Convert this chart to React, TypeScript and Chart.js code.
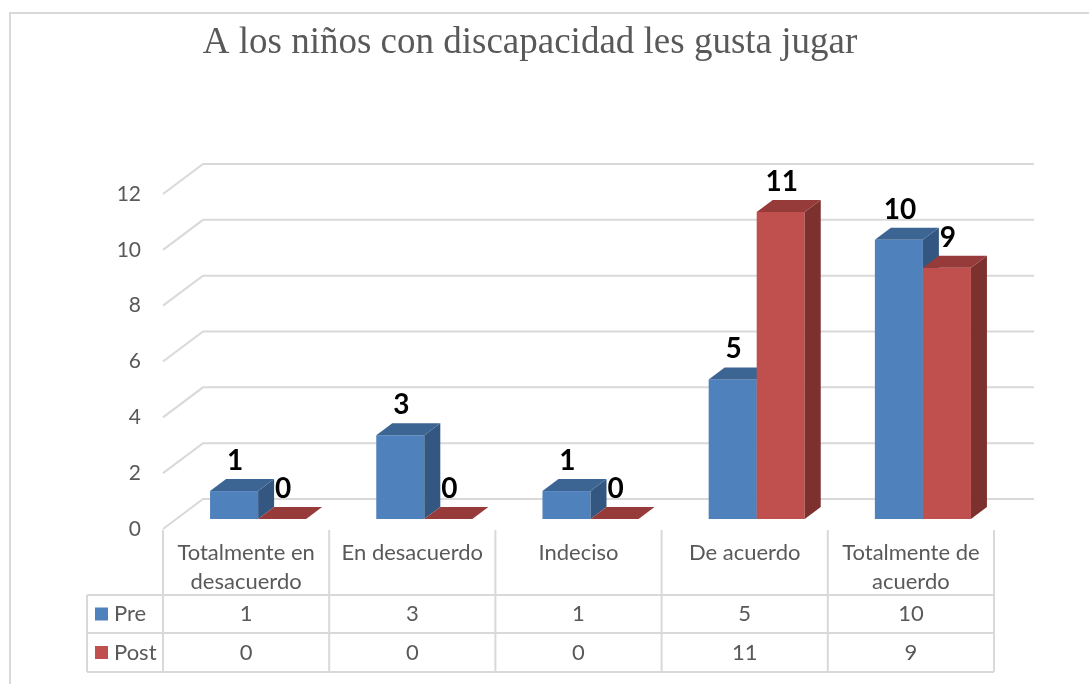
import React, { useEffect, useRef } from "react";
import { Chart, registerables } from "chart.js";

Chart.register(...registerables);

const chartTitle = "A los niños con discapacidad les gusta jugar";
const categories: string[][] = [
  ["Totalmente en", "desacuerdo"],
  ["En desacuerdo"],
  ["Indeciso"],
  ["De acuerdo"],
  ["Totalmente de", "acuerdo"],
];
const seriesNames = ["Pre", "Post"];
const preValues = [1, 3, 1, 5, 10];
const postValues = [0, 0, 0, 11, 9];
const yTicks = [0, 2, 4, 6, 8, 10, 12];

const W = 1089;
const H = 684;
const FONT = 'Lato, "Open Sans", sans-serif';
const GRAY_TEXT = "#595959";
const GRID = "#D9D9D9";
const PALETTE = [
  { front: "#4F81BD", top: "#3D6593", side: "#335781" },
  { front: "#C0504D", top: "#963B39", side: "#7D312F" },
];
const BACK = { dx: 28, dy: -20 };
const FRONT = { dx: -12, dy: 10 };
const DEPTH = { dx: 16, dy: -12 };

function drawBox(ctx: CanvasRenderingContext2D, l: number, r: number, top: number, base: number, c: any) {
  if (base - top > 0.5) {
    ctx.fillStyle = c.front;
    ctx.fillRect(l, top, r - l, base - top);
    ctx.fillStyle = c.side;
    ctx.beginPath();
    ctx.moveTo(r, top);
    ctx.lineTo(r + DEPTH.dx, top + DEPTH.dy);
    ctx.lineTo(r + DEPTH.dx, base + DEPTH.dy);
    ctx.lineTo(r, base);
    ctx.closePath();
    ctx.fill();
  }
  ctx.fillStyle = c.top;
  ctx.beginPath();
  ctx.moveTo(l, top);
  ctx.lineTo(l + DEPTH.dx, top + DEPTH.dy);
  ctx.lineTo(r + DEPTH.dx, top + DEPTH.dy);
  ctx.lineTo(r, top);
  ctx.closePath();
  ctx.fill();
}

const threeDPlugin = {
  id: "threeD",
  beforeDraw(chart: any) {
    const ctx: CanvasRenderingContext2D = chart.ctx;
    ctx.save();
    ctx.fillStyle = "#FFFFFF";
    ctx.fillRect(0, 0, W, H);
    ctx.strokeStyle = GRID;
    ctx.lineWidth = 2;
    ctx.beginPath();
    ctx.moveTo(10, H);
    ctx.lineTo(10, 13);
    ctx.lineTo(W, 13);
    ctx.stroke();
    ctx.fillStyle = GRAY_TEXT;
    ctx.font = '37px "Liberation Serif", "Times New Roman", serif';
    ctx.textAlign = "center";
    ctx.textBaseline = "alphabetic";
    ctx.fillText(chartTitle, 530, 53);
    ctx.restore();
  },
  beforeDatasetsDraw(chart: any) {
    const ctx: CanvasRenderingContext2D = chart.ctx;
    const y = chart.scales.y;
    const area = chart.chartArea;
    ctx.save();
    ctx.strokeStyle = GRID;
    ctx.lineWidth = 2;
    for (const v of yTicks) {
      const py = y.getPixelForValue(v);
      ctx.beginPath();
      ctx.moveTo(area.left + FRONT.dx, py + FRONT.dy);
      ctx.lineTo(area.left + BACK.dx, py + BACK.dy);
      ctx.lineTo(area.right + BACK.dx, py + BACK.dy);
      ctx.stroke();
    }
    ctx.fillStyle = GRAY_TEXT;
    ctx.font = `21px ${FONT}`;
    ctx.textAlign = "right";
    ctx.textBaseline = "middle";
    for (const v of yTicks) {
      const py = y.getPixelForValue(v);
      ctx.fillText(String(v), 141, py + FRONT.dy);
    }
    ctx.restore();
  },
  afterDatasetsDraw(chart: any) {
    const ctx: CanvasRenderingContext2D = chart.ctx;
    const area = chart.chartArea;
    const y = chart.scales.y;
    const metas = [chart.getDatasetMeta(0), chart.getDatasetMeta(1)];
    const allValues = [preValues, postValues];
    ctx.save();
    for (let i = 0; i < categories.length; i++) {
      metas.forEach((meta, d) => {
        const el = meta.data[i];
        const l = el.x - el.width / 2;
        const r = el.x + el.width / 2;
        drawBox(ctx, l, r, el.y, el.base, PALETTE[d]);
      });
    }
    ctx.fillStyle = "#000000";
    ctx.font = `bold 28px ${FONT}`;
    ctx.textAlign = "center";
    ctx.textBaseline = "middle";
    for (let i = 0; i < categories.length; i++) {
      metas.forEach((meta, d) => {
        const el = meta.data[i];
        ctx.fillText(String(allValues[d][i]), el.x + 1, el.y + DEPTH.dy - 18);
      });
    }
    const n = categories.length;
    const colW = (area.right - area.left) / n;
    const tLeft = area.left + FRONT.dx;
    const tRight = tLeft + colW * n;
    const topY = y.getPixelForValue(0) + FRONT.dy + 1;
    const rowLines = [595, 633, 672];
    const legendLeft = 87;
    ctx.strokeStyle = GRID;
    ctx.lineWidth = 2;
    ctx.beginPath();
    for (let c = 0; c <= n; c++) {
      const x = tLeft + c * colW;
      ctx.moveTo(x, topY);
      ctx.lineTo(x, rowLines[2]);
    }
    for (const ry of rowLines) {
      ctx.moveTo(legendLeft, ry);
      ctx.lineTo(tRight, ry);
    }
    ctx.moveTo(legendLeft, rowLines[0]);
    ctx.lineTo(legendLeft, rowLines[2]);
    ctx.stroke();

    ctx.fillStyle = GRAY_TEXT;
    ctx.font = `22px ${FONT}`;
    ctx.textAlign = "center";
    ctx.textBaseline = "middle";
    categories.forEach((lines, c) => {
      const cx = tLeft + (c + 0.5) * colW;
      lines.forEach((ln, k) => ctx.fillText(ln, cx, 553 + k * 29));
    });
    seriesNames.forEach((name, d) => {
      const cy = (rowLines[d] + rowLines[d + 1]) / 2;
      ctx.fillStyle = PALETTE[d].front;
      ctx.fillRect(95, cy - 6.5, 13, 13);
      ctx.fillStyle = GRAY_TEXT;
      ctx.textAlign = "left";
      ctx.fillText(name, 114, cy);
      ctx.textAlign = "center";
      allValues[d].forEach((v, c) => {
        ctx.fillText(String(v), tLeft + (c + 0.5) * colW, cy);
      });
    });
    ctx.restore();
  },
};

export default function App() {
  const ref = useRef<HTMLCanvasElement | null>(null);
  useEffect(() => {
    if (!ref.current) return;
    const chart = new Chart(ref.current, {
      type: "bar",
      data: {
        labels: categories.map((c) => c.join(" ")),
        datasets: [
          { label: seriesNames[0], data: preValues, backgroundColor: "rgba(0,0,0,0)" },
          { label: seriesNames[1], data: postValues, backgroundColor: "rgba(0,0,0,0)" },
        ],
      },
      options: {
        responsive: false,
        animation: false,
        layout: { padding: { left: 175, right: 83, top: 184, bottom: 165 } },
        datasets: { bar: { categoryPercentage: 0.578, barPercentage: 1 } },
        scales: {
          x: { display: false },
          y: { display: false, min: 0, max: 12, ticks: { stepSize: 2 } },
        },
        plugins: { legend: { display: false }, tooltip: { enabled: false }, title: { display: false } },
      },
      plugins: [threeDPlugin],
    } as any);
    return () => chart.destroy();
  }, []);
  return (
    <div style={{ position: "absolute", left: 0, top: 0, width: W, height: H }}>
      <canvas ref={ref} width={W} height={H} style={{ display: "block", width: W, height: H }} />
    </div>
  );
}
